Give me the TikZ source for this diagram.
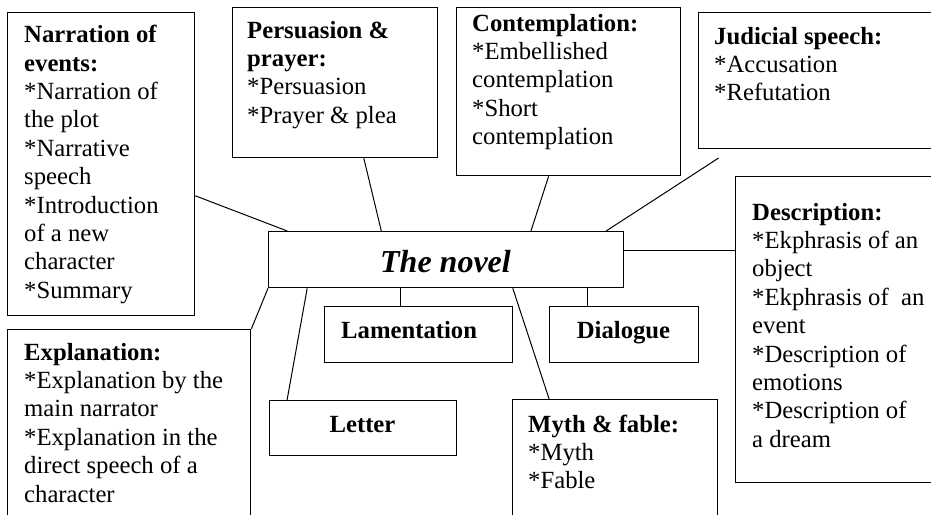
\documentclass[tikz,border=0pt]{standalone}
\usepackage{fontspec}
\setmainfont{Liberation Serif}
\usetikzlibrary{calc}
\tikzset{
  box/.style={draw, line width=1.3pt, rectangle, inner sep=0pt, anchor=north west},
  txt/.style={inner sep=0pt, anchor=base west},
  ctxt/.style={inner sep=0pt, anchor=base},
  conn/.style={line width=1pt},
}
\newcommand{\bodyfont}{\fontsize{24.7}{28.4}\selectfont}
\newcommand{\blk}[1]{\parbox[t]{300pt}{\raggedright\bodyfont #1}}
\newcommand{\itm}{\relax*}
\begin{document}
\begin{tikzpicture}[x=1pt,y=-1pt]
\useasboundingbox (0,0) rectangle (931,514);
\clip (0,0) rectangle (931,514);
% boxes
\node[box, minimum width=187pt, minimum height=303pt] (narr) at (7,12) {};
\node[box, minimum width=205pt, minimum height=150pt] (pers) at (232,7) {};
\node[box, minimum width=224pt, minimum height=168pt] (cont) at (456,7) {};
\node[box, minimum width=242pt, minimum height=136pt] (jud) at (698,12) {};
\node[box, minimum width=205pt, minimum height=306pt] (desc) at (735,176) {};
\node[box, minimum width=355pt, minimum height=56pt] (novel) at (268,231) {};
\node[box, minimum width=243pt, minimum height=200pt] (expl) at (7,329) {};
\node[box, minimum width=188pt, minimum height=56pt] (lam) at (324,306) {};
\node[box, minimum width=149pt, minimum height=56pt] (dial) at (549,306) {};
\node[box, minimum width=187pt, minimum height=55pt] (letter) at (269,400) {};
\node[box, minimum width=205pt, minimum height=130pt] (myth) at (512,399) {};
% texts
\node[txt] (narrT) at (24,42.7) {\blk{\textbf{Narration of}\\ \textbf{events:}\\ \itm Narration of\\ the plot\\ \itm Narrative\\ speech\\ \itm Introduction\\ of a new\\ character\\ \itm Summary}};
\node[txt] (persT) at (247,38) {\blk{\textbf{Persuasion \&}\\ \textbf{prayer:}\\ \itm Persuasion\\ \itm Prayer \& plea}};
\node[txt] (contT) at (472,31) {\blk{\textbf{Contemplation:}\\ \itm Embellished\\ contemplation\\ \itm Short\\ contemplation}};
\node[txt] (judT) at (714,44) {\blk{\textbf{Judicial speech:}\\ \itm Accusation\\ \itm Refutation}};
\node[txt] (descT) at (752,220) {\blk{\textbf{Description:}\\ \itm Ekphrasis of an\\ object\\ \itm Ekphrasis of~ an\\ event\\ \itm Description of\\ emotions\\ \itm Description of\\ a dream}};
\node[txt] (explT) at (24,360) {\blk{\textbf{Explanation:}\\ \itm Explanation by the\\ main narrator\\ \itm Explanation in the\\ direct speech of a\\ character}};
\node[txt] (mythT) at (528,432) {\blk{\textbf{Myth \& fable:}\\ \itm Myth\\ \itm Fable}};
\node[txt] (lamT) at (341,338) {\bodyfont\textbf{Lamentation}};
\node[ctxt] (letterT) at (362.5,432) {\bodyfont\textbf{Letter}};
\node[ctxt] (dialT) at (623.5,338) {\bodyfont\textbf{Dialogue}};
\node[ctxt] (novelT) at (445.5,272) {\fontsize{32}{36}\selectfont\bfseries\itshape The novel};
% connectors
\draw[conn] ($(narr.north east)!0.604!(narr.south east)$) -- ($(novel.north west)!0.054!(novel.north east)$);
\draw[conn] ($(pers.south west)!0.639!(pers.south east)$) -- ($(novel.north west)!0.318!(novel.north east)$);
\draw[conn] ($(cont.south west)!0.411!(cont.south east)$) -- ($(novel.north west)!0.738!(novel.north east)$);
\draw[conn, shorten <=16pt] ($(jud.south west)!0.14!(jud.south east)$) -- ($(novel.north west)!0.949!(novel.north east)$);
\coordinate (dstart) at ($(novel.north east)!0.34!(novel.south east)$);
\draw[conn] (dstart) -- (dstart -| desc.west);
\draw[conn] (novel.south west) -- (expl.north east);
\draw[conn] ($(novel.south west)!0.11!(novel.south east)$) -- ($(letter.north west)!0.096!(letter.north east)$);
\coordinate (lstart) at ($(novel.south west)!0.372!(novel.south east)$);
\draw[conn] (lstart) -- (lstart |- lam.north);
\coordinate (gstart) at ($(novel.south west)!0.896!(novel.south east)$);
\draw[conn] (gstart) -- (gstart |- dial.north);
\draw[conn] ($(novel.south west)!0.687!(novel.south east)$) -- ($(myth.north west)!0.18!(myth.north east)$);
\end{tikzpicture}
\end{document}
